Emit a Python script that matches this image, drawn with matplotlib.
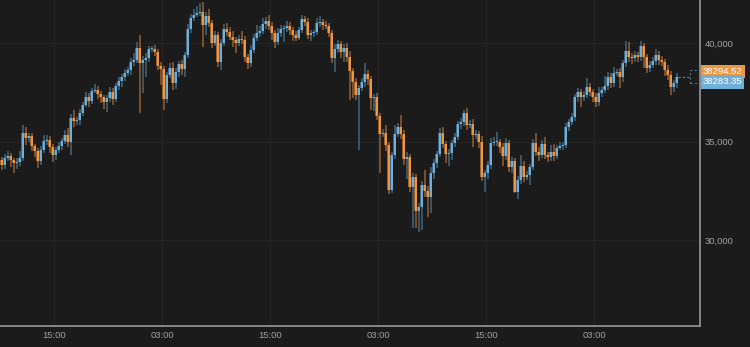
import numpy as np
import pandas as pd
import matplotlib
matplotlib.use("Agg")
import matplotlib.pyplot as plt
import matplotlib.dates as mdates
import matplotlib.transforms as mtransforms
from matplotlib.patches import Rectangle

# 20 minute candles, open of each = previous close
first_open = 34065
closes = [
    33810, 34160, 34265, 34060, 33910, 33960, 34165, 35430, 35180, 35280,
    34770, 34520, 34010, 34570, 35025, 35075, 34720, 34315, 34570, 34770,
    35025, 35330, 34975, 36195, 36040, 36090, 36445, 36855, 37260, 37055,
    37565, 37615, 37410, 37260, 37005, 37210, 37515, 37160, 37820, 38070,
    38275, 38480, 38630, 39035, 39140, 39745, 38985, 39135, 39240, 39695,
    39720, 39545, 38835, 38680, 37160, 38375, 38730, 37970, 38530, 38935,
    38680, 39390, 40710, 41270, 41420, 41525, 41560, 40915, 41370, 41015,
    40000, 40405, 39035, 40000, 40710, 40560, 40305, 40150, 40000, 40205,
    40150, 39290, 38985, 39645, 40255, 40510, 40610, 40965, 41115, 40865,
    40510, 40050, 40510, 40710, 40760, 40865, 40660, 40405, 40255, 40660,
    41220, 41065, 40405, 40510, 40560, 41015, 41065, 40915, 40865, 40510,
    39240, 39695, 39950, 39545, 39745, 39290, 38580, 38020, 37360, 37715,
    38020, 38425, 38175, 37210, 37260, 36295, 35380, 35430, 34825, 32540,
    34315, 35380, 35735, 35380, 34110, 34215, 32690, 33200, 31475, 31675,
    32795, 32490, 32185, 33400, 33910, 34365, 35430, 34875, 34365, 34415,
    34925, 35230, 35890, 35990, 36445, 35840, 35890, 35330, 35380, 34975,
    33200, 33400, 33810, 34925, 34975, 35000, 34720, 34265, 34925, 33705,
    34010, 32435, 33045, 33755, 33200, 33300, 33705, 34925, 34465, 34315,
    34875, 34315, 34215, 34465, 34265, 34670, 34770, 34825, 35735, 35990,
    36245, 37260, 37515, 37260, 37360, 37765, 37515, 37260, 37005, 37460,
    37615, 37820, 38275, 37970, 38480, 38530, 38275, 38985, 39595, 39290,
    39240, 39390, 39290, 39850, 39290, 38730, 38885, 39085, 39390, 39135,
    39035, 38630, 38375, 37765, 37970, 38283.35,
]
# wick lengths above / below the body
wick_up = [
    150, 200, 250, 150, 100, 200, 350, 400, 300, 150,
    150, 100, 150, 200, 300, 250, 200, 150, 150, 200,
    150, 250, 350, 200, 400, 150, 200, 150, 250, 200,
    150, 300, 200, 150, 100, 150, 250, 200, 150, 200,
    150, 200, 150, 200, 350, 300, 660, 200, 250, 150,
    150, 200, 150, 200, 150, 150, 250, 300, 200, 150,
    200, 150, 250, 200, 300, 350, 450, 500, 200, 350,
    150, 200, 150, 200, 250, 300, 250, 300, 150, 200,
    400, 200, 150, 250, 200, 400, 250, 300, 200, 300,
    200, 150, 250, 200, 150, 250, 200, 150, 200, 150,
    200, 150, 200, 150, 100, 250, 300, 150, 200, 150,
    150, 250, 200, 150, 200, 250, 300, 150, 200, 150,
    200, 560, 200, 150, 150, 200, 150, 200, 400, 150,
    150, 450, 200, 600, 200, 250, 150, 200, 150, 200,
    200, 750, 250, 300, 200, 150, 250, 300, 150, 200,
    150, 200, 150, 200, 150, 250, 200, 250, 200, 150,
    300, 150, 200, 250, 250, 500, 150, 200, 250, 150,
    200, 150, 200, 550, 250, 200, 150, 200, 500, 250,
    200, 350, 150, 350, 400, 150, 200, 150, 200, 150,
    200, 150, 200, 150, 200, 450, 200, 150, 200, 300,
    150, 500, 250, 200, 300, 150, 200, 150, 500, 450,
    200, 200, 150, 250, 150, 150, 200, 200, 300, 200,
    200, 150, 250, 200, 150, 200,
]
wick_dn = [
    250, 200, 150, 350, 500, 300, 200, 150, 350, 200,
    250, 300, 350, 200, 150, 200, 300, 350, 250, 150,
    200, 150, 250, 650, 300, 200, 250, 150, 100, 300,
    150, 100, 250, 300, 350, 500, 200, 300, 150, 200,
    300, 200, 150, 250, 200, 150, 2540, 1500, 850, 200,
    150, 200, 200, 800, 560, 200, 150, 350, 300, 250,
    300, 400, 150, 200, 150, 100, 150, 1100, 500, 200,
    250, 150, 250, 400, 150, 200, 150, 350, 500, 150,
    200, 250, 300, 200, 150, 150, 200, 150, 250, 200,
    350, 300, 150, 200, 650, 200, 250, 300, 150, 100,
    150, 200, 200, 300, 200, 150, 200, 250, 150, 200,
    250, 700, 200, 300, 500, 250, 1470, 800, 250, 2790,
    150, 250, 300, 600, 650, 200, 1980, 150, 300, 200,
    150, 200, 150, 250, 300, 1000, 250, 2100, 860, 1070,
    1170, 300, 1000, 800, 300, 250, 150, 200, 450, 600,
    350, 200, 150, 250, 200, 250, 150, 600, 200, 300,
    200, 760, 300, 200, 150, 200, 300, 500, 200, 250,
    300, 50, 350, 200, 250, 150, 500, 150, 200, 300,
    150, 200, 250, 200, 250, 150, 100, 200, 150, 200,
    150, 200, 250, 500, 200, 150, 200, 250, 250, 200,
    200, 150, 200, 250, 200, 150, 550, 250, 200, 250,
    300, 200, 250, 200, 550, 250, 200, 150, 200, 250,
    200, 300, 250, 400, 250, 250,
]
ask_price = 38294.52
bid_price = 38283.35
y_ticks = [30000, 35000, 40000]

times = pd.date_range("2021-01-19 09:10", periods=len(closes), freq="20min")

c = np.array(closes, dtype=float)
o = np.concatenate([[first_open], c[:-1]])
hi = np.maximum(o, c) + np.array(wick_up)
lo = np.minimum(o, c) - np.array(wick_dn)
x = mdates.date2num(times.to_pydatetime())

BG = "#1b1b1b"
BLUE = "#6fb0da"
ORANGE = "#f0963e"
BLUE_W = "#41667f"
ORANGE_W = "#95602f"

plt.rcParams["font.family"] = ["Liberation Sans", "DejaVu Sans"]
fig = plt.figure(figsize=(7.5, 3.47), dpi=100, facecolor=BG)
ax = fig.add_axes([0, 1 - 326 / 347, 700 / 750, 326 / 347])
ax.set_facecolor(BG)

up = c >= o
body_col = np.where(up, BLUE, ORANGE)
wick_col = np.where(up, BLUE_W, ORANGE_W)
step = 1 / 72.0

ax.vlines(x, lo, hi, colors=wick_col, lw=1.1, zorder=2)
# darker shadow behind each body, then the body
ax.bar(x - step * 0.2, np.maximum(np.abs(c - o), 45), bottom=np.minimum(o, c), width=step * 0.9,
       color=wick_col, edgecolor="none", zorder=3)
ax.bar(x + step * 0.1, np.maximum(np.abs(c - o), 45), bottom=np.minimum(o, c), width=step * 0.8,
       color=body_col, edgecolor="none", zorder=4)

# last price marker
last_x = x[-1]
ax.plot([last_x + step * 0.6, last_x + step * 4.5], [bid_price, bid_price], ls=(0, (2, 2)),
        color="#6d8799", lw=0.8, zorder=2)
ax.add_patch(Rectangle((last_x + step * 4.5, bid_price - 330), step * 3.3, 660, fill=False,
                       ls=(0, (2, 2)), ec="#5f7585", lw=0.8, zorder=2))

ax.set_xlim(mdates.date2num(pd.Timestamp("2021-01-19 09:00")),
            mdates.date2num(pd.Timestamp("2021-01-19 09:00") + pd.Timedelta(hours=700 / 9)))
ax.set_ylim(25635, 42183)

ax.xaxis.set_major_locator(mdates.HourLocator(byhour=[3, 15]))
ax.xaxis.set_major_formatter(mdates.DateFormatter("%H:%M"))
ax.set_yticks(y_ticks)
ax.set_yticklabels([f"{v:,}" for v in y_ticks])
ax.yaxis.tick_right()
ax.tick_params(axis="both", length=0, colors="#a2a2a2", labelsize=6.8)
ax.tick_params(axis="x", pad=3.5)
ax.tick_params(axis="y", pad=3.5)
ax.grid(True, color="#252525", lw=0.8)
ax.set_axisbelow(True)

for s in ["top", "left"]:
    ax.spines[s].set_visible(False)
for s in ["right", "bottom"]:
    ax.spines[s].set_color("#8f8f8f")
    ax.spines[s].set_linewidth(1.3)

tr = mtransforms.blended_transform_factory(ax.transAxes, ax.transData)
ax.text(1.004, bid_price + 290, f"{ask_price:.2f}", transform=tr, ha="left", va="center",
        color="white", fontsize=6.8, clip_on=False,
        bbox=dict(boxstyle="square,pad=0.22", fc=ORANGE, ec="none"))
ax.text(1.004, bid_price - 262, f"{bid_price:.2f}", transform=tr, ha="left", va="center",
        color="white", fontsize=6.8, clip_on=False,
        bbox=dict(boxstyle="square,pad=0.22", fc=BLUE, ec="none"))

fig.savefig("out.png", dpi=100, facecolor=BG)
